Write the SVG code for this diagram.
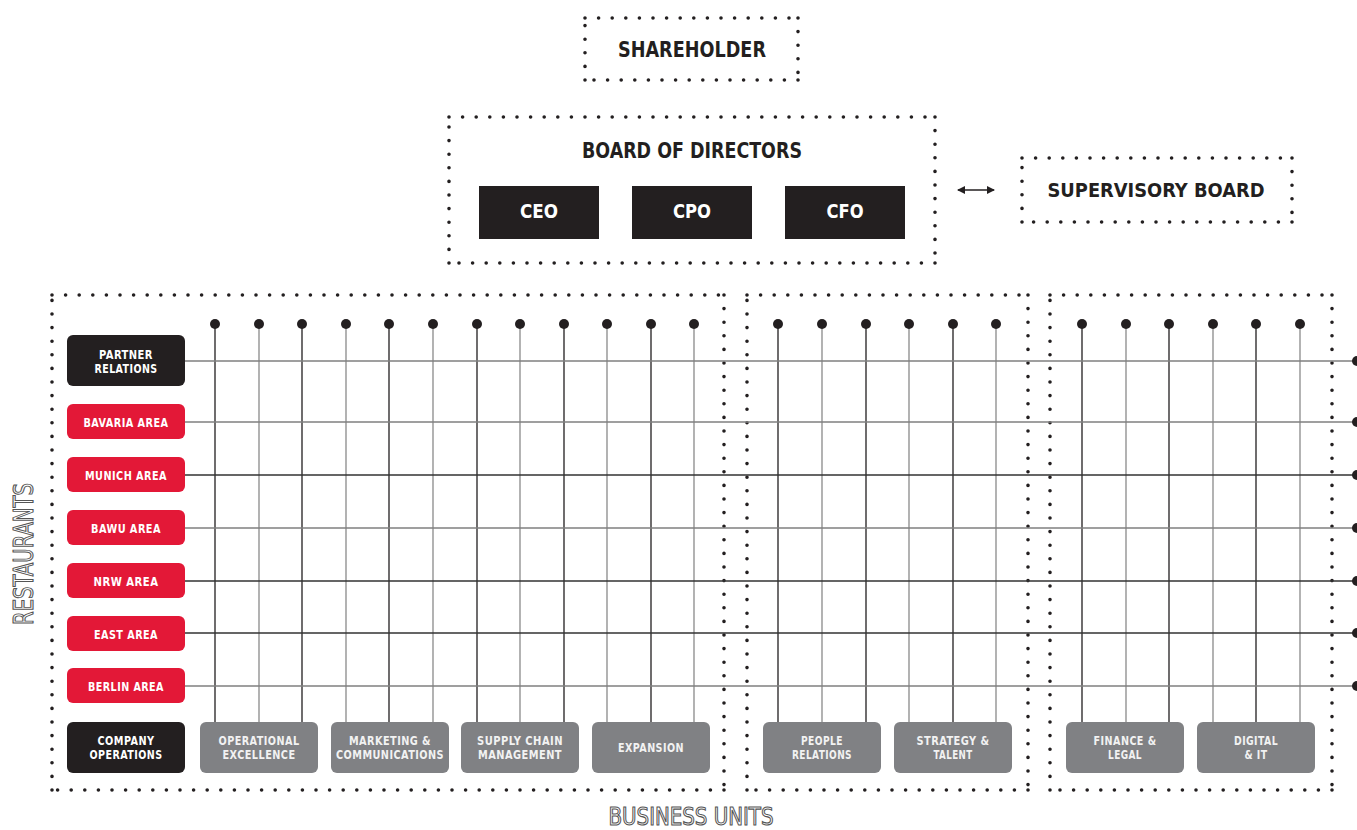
<svg xmlns="http://www.w3.org/2000/svg" width="1357" height="830" viewBox="0 0 1357 830">
<defs>
<style>
.dot{fill:none;stroke:#231f20;stroke-width:3.6;stroke-linecap:round;stroke-dasharray:0 13.6}
.t{font-family:"DejaVu Sans Condensed","DejaVu Sans","Liberation Sans",sans-serif;font-weight:bold;text-anchor:middle}
.big{font-size:22px;fill:#231f20}
.wb{font-size:20px;fill:#fff}
.sm{font-size:12px;fill:#fff;letter-spacing:0.5px}
.smg{font-size:12px;fill:#f2f2f2;letter-spacing:0.5px}
.out{font-family:"DejaVu Sans Condensed","DejaVu Sans",sans-serif;font-weight:normal;fill:#fff;stroke:#555;stroke-width:1.1;text-anchor:middle}
.blk{fill:#231f20}
.red{fill:#e31837}
.gry{fill:#808184}
.vd{stroke:#231f20;stroke-width:1.3}
.vg{stroke:#8a8a8a;stroke-width:1.3}
.hd{stroke:#333;stroke-width:1.3}
.hg{stroke:#808080;stroke-width:1.3}
</style>
<marker id="ah" viewBox="0 0 8 8" refX="7" refY="4" markerWidth="8" markerHeight="8" markerUnits="userSpaceOnUse" orient="auto-start-reverse">
<path d="M0,0 L8,4 L0,8 z" fill="#231f20"/>
</marker>
</defs>
<rect width="1357" height="830" fill="#fff"/>

<g id="frames">
<path class="dot" d="M585,18 H798 M798,18 V80 M798,80 H585 M585,80 V18"/>
<path class="dot" d="M449,117 H935 M935,117 V263 M935,263 H449 M449,263 V117"/>
<path class="dot" d="M1022,158 H1292 M1292,158 V222 M1292,222 H1022 M1022,222 V158"/>
<path class="dot" d="M52,295 H724 M724,295 V790 M724,790 H52 M52,790 V295"/>
<path class="dot" d="M747,295 H1028 M1028,295 V790 M1028,790 H747 M747,790 V295"/>
<path class="dot" d="M1050,295 H1332 M1332,295 V790 M1332,790 H1050 M1050,790 V295"/>
</g>

<g id="connectors">
<line x1="958" y1="190" x2="994" y2="190" stroke="#231f20" stroke-width="1.3" marker-start="url(#ah)" marker-end="url(#ah)"/>
<g id="verticals">
<path class="vd" d="M215,324 V722 M302,324 V722 M389,324 V722 M477,324 V722 M564,324 V722 M651,324 V722 M778,324 V722 M866,324 V722 M953,324 V722 M1082,324 V722 M1169,324 V722 M1256,324 V722"/>
<path class="vg" d="M259,324 V722 M346,324 V722 M433,324 V722 M520,324 V722 M607,324 V722 M694,324 V722 M822,324 V722 M909,324 V722 M996,324 V722 M1126,324 V722 M1213,324 V722 M1300,324 V722"/>
</g>
<g id="horizontals">
<path class="hg" d="M185,361 H1357 M185,422 H1357 M185,528 H1357 M185,686 H1357"/>
<path class="hd" d="M185,475 H1357 M185,581 H1357 M185,633 H1357"/>
</g>
<g id="enddots" fill="#231f20">
<circle cx="215" cy="324" r="5"/><circle cx="259" cy="324" r="5"/><circle cx="302" cy="324" r="5"/><circle cx="346" cy="324" r="5"/><circle cx="389" cy="324" r="5"/><circle cx="433" cy="324" r="5"/><circle cx="477" cy="324" r="5"/><circle cx="520" cy="324" r="5"/><circle cx="564" cy="324" r="5"/><circle cx="607" cy="324" r="5"/><circle cx="651" cy="324" r="5"/><circle cx="694" cy="324" r="5"/>
<circle cx="778" cy="324" r="5"/><circle cx="822" cy="324" r="5"/><circle cx="866" cy="324" r="5"/><circle cx="909" cy="324" r="5"/><circle cx="953" cy="324" r="5"/><circle cx="996" cy="324" r="5"/>
<circle cx="1082" cy="324" r="5"/><circle cx="1126" cy="324" r="5"/><circle cx="1169" cy="324" r="5"/><circle cx="1213" cy="324" r="5"/><circle cx="1256" cy="324" r="5"/><circle cx="1300" cy="324" r="5"/>
<circle cx="1357" cy="361" r="5"/><circle cx="1357" cy="422" r="5"/><circle cx="1357" cy="475" r="5"/><circle cx="1357" cy="528" r="5"/><circle cx="1357" cy="581" r="5"/><circle cx="1357" cy="633" r="5"/><circle cx="1357" cy="686" r="5"/>
</g>
</g>

<g id="shareholder"><text class="t big" x="692" y="57" textLength="148" lengthAdjust="spacingAndGlyphs">SHAREHOLDER</text></g>
<g id="board"><text class="t big" x="692" y="158" textLength="220" lengthAdjust="spacingAndGlyphs">BOARD OF DIRECTORS</text></g>
<g id="ceo"><rect class="blk" x="479" y="186" width="120" height="53"/><text class="t wb" x="539" y="218" textLength="38" lengthAdjust="spacingAndGlyphs">CEO</text></g>
<g id="cpo"><rect class="blk" x="632" y="186" width="120" height="53"/><text class="t wb" x="692" y="218" textLength="38" lengthAdjust="spacingAndGlyphs">CPO</text></g>
<g id="cfo"><rect class="blk" x="785" y="186" width="120" height="53"/><text class="t wb" x="845" y="218" textLength="37" lengthAdjust="spacingAndGlyphs">CFO</text></g>
<g id="supervisory"><text class="t big" style="font-size:20px" x="1156" y="197" textLength="217" lengthAdjust="spacingAndGlyphs">SUPERVISORY BOARD</text></g>

<g id="partner"><rect class="blk" x="67" y="335" width="118" height="51" rx="6"/><text class="t sm" x="126" y="359" textLength="54" lengthAdjust="spacingAndGlyphs">PARTNER</text><text class="t sm" x="126" y="373" textLength="63" lengthAdjust="spacingAndGlyphs">RELATIONS</text></g>
<g id="bavaria"><rect class="red" x="67" y="404" width="118" height="35" rx="6"/><text class="t sm" x="126" y="427" textLength="85" lengthAdjust="spacingAndGlyphs">BAVARIA AREA</text></g>
<g id="munich"><rect class="red" x="67" y="457" width="118" height="35" rx="6"/><text class="t sm" x="126" y="480" textLength="82" lengthAdjust="spacingAndGlyphs">MUNICH AREA</text></g>
<g id="bawu"><rect class="red" x="67" y="510" width="118" height="35" rx="6"/><text class="t sm" x="126" y="533" textLength="70" lengthAdjust="spacingAndGlyphs">BAWU AREA</text></g>
<g id="nrw"><rect class="red" x="67" y="563" width="118" height="35" rx="6"/><text class="t sm" x="126" y="586" textLength="65" lengthAdjust="spacingAndGlyphs">NRW AREA</text></g>
<g id="east"><rect class="red" x="67" y="616" width="118" height="35" rx="6"/><text class="t sm" x="126" y="639" textLength="64" lengthAdjust="spacingAndGlyphs">EAST AREA</text></g>
<g id="berlin"><rect class="red" x="67" y="668" width="118" height="35" rx="6"/><text class="t sm" x="126" y="691" textLength="76" lengthAdjust="spacingAndGlyphs">BERLIN AREA</text></g>
<g id="companyops"><rect class="blk" x="67" y="722" width="118" height="51" rx="6"/><text class="t sm" x="126" y="745" textLength="57" lengthAdjust="spacingAndGlyphs">COMPANY</text><text class="t sm" x="126" y="759" textLength="73" lengthAdjust="spacingAndGlyphs">OPERATIONS</text></g>

<g id="opex"><rect class="gry" x="200" y="722" width="118" height="51" rx="6"/><text class="t smg" x="259" y="745" textLength="81" lengthAdjust="spacingAndGlyphs">OPERATIONAL</text><text class="t smg" x="259" y="759" textLength="73" lengthAdjust="spacingAndGlyphs">EXCELLENCE</text></g>
<g id="marcom"><rect class="gry" x="331" y="722" width="118" height="51" rx="6"/><text class="t smg" x="390" y="745" textLength="82" lengthAdjust="spacingAndGlyphs">MARKETING &amp;</text><text class="t smg" x="390" y="759" textLength="108" lengthAdjust="spacingAndGlyphs">COMMUNICATIONS</text></g>
<g id="supply"><rect class="gry" x="461" y="722" width="118" height="51" rx="6"/><text class="t smg" x="520" y="745" textLength="86" lengthAdjust="spacingAndGlyphs">SUPPLY CHAIN</text><text class="t smg" x="520" y="759" textLength="84" lengthAdjust="spacingAndGlyphs">MANAGEMENT</text></g>
<g id="expansion"><rect class="gry" x="592" y="722" width="118" height="51" rx="6"/><text class="t smg" x="651" y="752" textLength="66" lengthAdjust="spacingAndGlyphs">EXPANSION</text></g>
<g id="people"><rect class="gry" x="763" y="722" width="118" height="51" rx="6"/><text class="t smg" x="822" y="745" textLength="42" lengthAdjust="spacingAndGlyphs">PEOPLE</text><text class="t smg" x="822" y="759" textLength="60" lengthAdjust="spacingAndGlyphs">RELATIONS</text></g>
<g id="strategy"><rect class="gry" x="894" y="722" width="118" height="51" rx="6"/><text class="t smg" x="953" y="745" textLength="73" lengthAdjust="spacingAndGlyphs">STRATEGY &amp;</text><text class="t smg" x="953" y="759" textLength="39" lengthAdjust="spacingAndGlyphs">TALENT</text></g>
<g id="finance"><rect class="gry" x="1066" y="722" width="118" height="51" rx="6"/><text class="t smg" x="1125" y="745" textLength="63" lengthAdjust="spacingAndGlyphs">FINANCE &amp;</text><text class="t smg" x="1125" y="759" textLength="34" lengthAdjust="spacingAndGlyphs">LEGAL</text></g>
<g id="digital"><rect class="gry" x="1197" y="722" width="118" height="51" rx="6"/><text class="t smg" x="1256" y="745" textLength="44" lengthAdjust="spacingAndGlyphs">DIGITAL</text><text class="t smg" x="1256" y="759" textLength="23" lengthAdjust="spacingAndGlyphs">&amp; IT</text></g>

<g id="restaurants-label"><text class="out" font-size="27" transform="translate(33,554) rotate(-90)" x="0" y="0" textLength="142" lengthAdjust="spacingAndGlyphs">RESTAURANTS</text></g>
<g id="business-units-label"><text class="out" font-size="24" x="691" y="825" textLength="165" lengthAdjust="spacingAndGlyphs">BUSINESS UNITS</text></g>
</svg>
